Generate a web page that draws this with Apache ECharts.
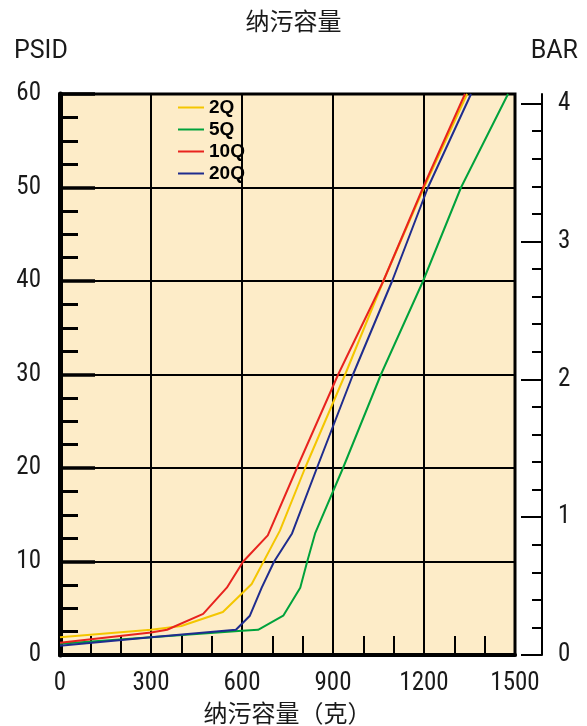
<!DOCTYPE html>
<html>
<head>
<meta charset="utf-8">
<script src="https://cdn.jsdelivr.net/npm/echarts@6/dist/echarts.min.js"></script>
<style>
  html, body { margin: 0; padding: 0; background: #ffffff; }
  #chart { width: 587px; height: 726px; }
</style>
</head>
<body>
<div id="chart"></div>
<script>
// Dirt holding capacity (grams) vs. differential pressure (PSID)
const seriesNames = ['2Q', '5Q', '10Q', '20Q'];
const seriesColors = ['#F4C600', '#00A23C', '#E8231E', '#1F2C8E'];

const curve2Q  = [[0, 1.9], [300, 2.7], [400, 3.1], [537, 4.6], [632, 7.6], [725, 13.3], [808, 20], [940, 30], [1066, 40], [1200, 50], [1342, 60]];
const curve5Q  = [[0, 1.2], [300, 1.9], [600, 2.6], [653, 2.7], [736, 4.2], [792, 7.2], [815, 10], [841, 13], [933, 20], [1058, 30], [1197, 40], [1322, 50], [1477, 60]];
const curve10Q = [[0, 1.3], [300, 2.4], [353, 2.7], [472, 4.4], [550, 7.2], [604, 10], [685, 12.8], [781, 20], [917, 30], [1066, 40], [1197, 50], [1335, 60]];
const curve20Q = [[0, 1.0], [300, 1.9], [580, 2.7], [626, 4.2], [665, 7.2], [706, 10], [765, 13], [847, 20], [966, 30], [1095, 40], [1213, 50], [1355, 60]];

// secondary pressure scale in bar
const barMajorTicks = [0, 1, 2, 3, 4];
const barMinorTicks = [0.2, 0.4, 0.6, 0.8, 1.2, 1.4, 1.6, 1.8, 2.2, 2.4, 2.6, 2.8, 3.2, 3.4, 3.6, 3.8];

const numFont = "'Liberation Sans Narrow', 'Roboto Condensed', 'DejaVu Sans Condensed', Roboto, sans-serif";
const unitFont = "Roboto, 'Noto Sans', sans-serif";
const cjkFont = "'Noto Sans CJK SC', sans-serif";
const ink = '#1a1a1a';

const chart = echarts.init(document.getElementById('chart'));

const curves = [curve2Q, curve5Q, curve10Q, curve20Q];
const plainNumber = (v) => String(v);

const option = {
  animation: false,
  title: {
    text: '纳污容量',
    left: 'center',
    top: 4,
    textStyle: { fontFamily: cjkFont, fontSize: 24, fontWeight: 'normal', color: ink }
  },
  graphic: [
    { type: 'text', left: 14, top: 39, style: { text: 'PSID', font: "25px " + unitFont, fill: ink } },
    { type: 'text', right: 9, top: 39, style: { text: 'BAR', font: "25px " + unitFont, fill: ink } }
  ],
  legend: {
    data: seriesNames,
    orient: 'vertical',
    left: 173,
    top: 92,
    icon: 'rect',
    itemWidth: 26,
    itemHeight: 2,
    itemGap: 1,
    textStyle: { fontFamily: "'Liberation Sans', Arial, sans-serif", fontWeight: 'bold', fontSize: 19, lineHeight: 21, color: '#000' }
  },
  grid: {
    left: 60, right: 72, top: 94, bottom: 71,
    outerBoundsMode: 'none',
    show: true,
    backgroundColor: '#FDECC8',
    borderColor: '#000',
    borderWidth: 3
  },
  xAxis: {
    type: 'value',
    min: 0, max: 1500, interval: 300,
    name: '纳污容量（克）',
    nameLocation: 'middle',
    nameGap: 44,
    nameTextStyle: { fontFamily: cjkFont, fontSize: 24, color: ink },
    axisLine: { onZero: false, lineStyle: { color: '#000', width: 4 } },
    axisTick: { inside: true, length: 19, lineStyle: { color: '#000', width: 2 } },
    minorTick: { show: true, splitNumber: 3, length: 19, lineStyle: { color: '#000', width: 2 } },
    splitLine: { show: true, lineStyle: { color: '#000', width: 2 } },
    axisLabel: { margin: 16, fontFamily: numFont, fontSize: 25, color: ink, formatter: plainNumber }
  },
  yAxis: [
    {
      type: 'value',
      min: 0, max: 60, interval: 10,
      position: 'left',
      axisLine: { show: true, lineStyle: { color: '#000', width: 5 } },
      axisTick: { show: true, inside: true, length: 35, lineStyle: { color: '#000', width: 3.5 } },
      minorTick: { show: true, splitNumber: 4, length: 18, lineStyle: { color: '#000', width: 3 } },
      splitLine: { show: true, lineStyle: { color: '#000', width: 2 } },
      axisLabel: { margin: 19, fontFamily: numFont, fontSize: 25, color: ink, padding: [0, 0, 12, 0], formatter: plainNumber }
    },
    {
      type: 'value',
      min: 0, max: 4.07,
      position: 'right',
      offset: 27,
      axisLine: { show: true, lineStyle: { color: '#000', width: 2 } },
      axisTick: { show: true, inside: true, length: 21, customValues: barMajorTicks, lineStyle: { color: '#000', width: 2 } },
      axisLabel: { customValues: barMajorTicks, margin: 16, fontFamily: numFont, fontSize: 25, color: ink, padding: [0, 0, 12, 0] },
      splitLine: { show: false }
    },
    {
      type: 'value',
      min: 0, max: 4.07,
      position: 'right',
      offset: 27,
      axisLine: { show: false },
      axisTick: { show: true, inside: true, length: 10, customValues: barMinorTicks, lineStyle: { color: '#000', width: 2 } },
      axisLabel: { show: false },
      splitLine: { show: false }
    }
  ],
  series: seriesNames.map((name, i) => ({
    name: name,
    type: 'line',
    yAxisIndex: 0,
    data: curves[i],
    symbol: 'none',
    color: seriesColors[i],
    lineStyle: { width: 2, color: seriesColors[i] },
    z: 3
  }))
};

chart.setOption(option);
</script>
</body>
</html>
